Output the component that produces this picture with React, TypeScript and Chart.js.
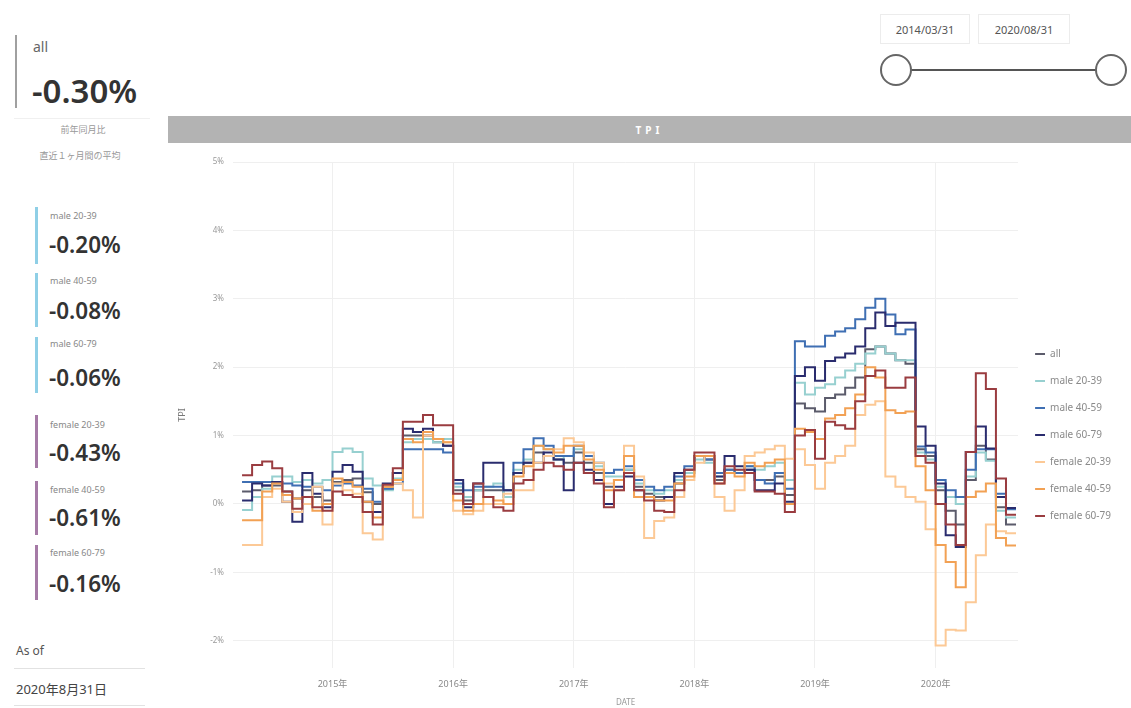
import React, { useEffect, useRef } from "react";
import { Chart, registerables } from "chart.js";

Chart.register(...registerables);

// ---- categories (month-end dates, 2014/03 .. 2020/08) ----
const months: string[] = [
  "2014/03", "2014/04", "2014/05", "2014/06", "2014/07", "2014/08", "2014/09", "2014/10", "2014/11", "2014/12",
  "2015/01", "2015/02", "2015/03", "2015/04", "2015/05", "2015/06", "2015/07", "2015/08", "2015/09", "2015/10", "2015/11", "2015/12",
  "2016/01", "2016/02", "2016/03", "2016/04", "2016/05", "2016/06", "2016/07", "2016/08", "2016/09", "2016/10", "2016/11", "2016/12",
  "2017/01", "2017/02", "2017/03", "2017/04", "2017/05", "2017/06", "2017/07", "2017/08", "2017/09", "2017/10", "2017/11", "2017/12",
  "2018/01", "2018/02", "2018/03", "2018/04", "2018/05", "2018/06", "2018/07", "2018/08", "2018/09", "2018/10", "2018/11", "2018/12",
  "2019/01", "2019/02", "2019/03", "2019/04", "2019/05", "2019/06", "2019/07", "2019/08", "2019/09", "2019/10", "2019/11", "2019/12",
  "2020/01", "2020/02", "2020/03", "2020/04", "2020/05", "2020/06", "2020/07", "2020/08",
];

// ---- series values (% YoY) ----
const allSeries: number[] = [
  0.18, 0.18, 0.2, 0.27, 0.27, 0.18, 0.08, 0.2, 0.1, 0.05,
  0.32, 0.35, 0.37, 0.17, 0.0, 0.22, 0.45, 1.0, 1.0, 1.0, 0.9, 0.85,
  0.2, 0.05, 0.2, 0.2, 0.2, 0.1, 0.45, 0.6, 0.75, 0.7, 0.65, 0.6,
  0.75, 0.6, 0.45, 0.25, 0.35, 0.5, 0.25, 0.15, 0.1, 0.1, 0.3, 0.45,
  0.7, 0.65, 0.35, 0.5, 0.45, 0.5, 0.35, 0.35, 0.4, 0.13, 1.47, 1.4,
  1.35, 1.55, 1.6, 1.7, 1.85, 2.26, 2.3, 2.2, 2.1, 2.05, 0.8, 0.7,
  0.2, -0.1, -0.3, 0.35, 0.85, 0.65, -0.05, -0.3,
];
const male2039: number[] = [
  -0.09, -0.09, 0.1, 0.22, 0.4, 0.4, 0.32, 0.35, 0.3, 0.35,
  0.76, 0.81, 0.76, 0.37, 0.27, 0.2, 0.37, 0.9, 0.95, 0.95, 0.9, 0.95,
  0.25, 0.1, 0.2, 0.25, 0.3, 0.1, 0.5, 0.65, 0.85, 0.8, 0.65, 0.7,
  0.8, 0.7, 0.55, 0.4, 0.4, 0.5, 0.3, 0.2, 0.15, 0.2, 0.35, 0.45,
  0.65, 0.6, 0.4, 0.45, 0.5, 0.55, 0.5, 0.55, 0.6, 0.35, 1.77, 1.6,
  1.7, 1.75, 1.85, 1.95, 2.05, 2.2, 2.3, 2.2, 2.1, 2.1, 0.75, 0.65,
  0.25, 0.1, 0.0, 0.4, 0.75, 0.63, -0.1, -0.2,
];
const male4059: number[] = [
  0.32, 0.32, 0.32, 0.32, 0.32, 0.3, 0.27, 0.25, 0.25, 0.2,
  0.27, 0.3, 0.27, 0.22, 0.03, 0.22, 0.3, 0.8, 0.8, 0.8, 0.8, 0.75,
  0.3, 0.2, 0.25, 0.25, 0.25, 0.2, 0.6, 0.8, 0.96, 0.85, 0.7, 0.7,
  0.85, 0.7, 0.6, 0.45, 0.5, 0.55, 0.35, 0.25, 0.2, 0.25, 0.4, 0.55,
  0.7, 0.65, 0.45, 0.5, 0.45, 0.55, 0.35, 0.3, 0.45, 0.22, 2.38, 2.3,
  2.3, 2.46, 2.52, 2.57, 2.7, 2.87, 3.0, 2.77, 2.48, 2.55, 0.84, 0.75,
  0.35, 0.2, 0.1, 0.5, 0.8, 0.8, 0.15, -0.08,
];
const male6079: number[] = [
  0.05, 0.05, 0.3, 0.27, 0.32, 0.03, -0.26, 0.45, 0.15, -0.05,
  0.47, 0.57, 0.47, 0.03, -0.12, 0.3, 0.45, 1.1, 1.05, 1.1, 0.95, 0.85,
  0.35, -0.05, 0.3, 0.6, 0.6, 0.2, 0.45, 0.6, 0.6, 0.75, 0.65, 0.2,
  0.6, 0.5, 0.35, 0.0, 0.25, 0.4, 0.2, 0.1, 0.05, 0.1, 0.45, 0.5,
  0.7, 0.7, 0.4, 0.7, 0.55, 0.5, 0.2, 0.2, 0.3, 0.03, 1.87, 2.0,
  1.8, 2.09, 2.14, 2.2, 2.3, 2.57, 2.8, 2.6, 2.65, 2.65, 1.13, 0.85,
  0.3, -0.46, -0.63, 0.76, 1.13, 0.81, 0.1, -0.06,
];
const female2039: number[] = [
  -0.6, -0.6, -0.6, 0.1, 0.22, 0.03, -0.12, 0.0, 0.25, -0.3,
  0.3, 0.2, 0.15, -0.43, -0.52, 0.25, 0.3, 0.2, -0.2, 1.0, 0.95, 0.9,
  -0.1, -0.15, -0.1, 0.0, 0.0, 0.15, 0.2, 0.2, 0.6, 0.7, 0.8, 0.96,
  0.9, 0.75, 0.6, 0.3, 0.2, 0.85, 0.4, -0.5, -0.25, -0.2, 0.1, 0.35,
  0.6, 0.7, 0.1, -0.1, 0.2, 0.7, 0.75, 0.8, 0.85, 0.66, 0.8, 0.57,
  0.22, 0.6, 0.7, 0.85, 1.3, 1.45, 1.5, 0.4, 0.25, 0.1, 0.03, -0.37,
  -2.07, -1.84, -1.85, -1.44, -0.75, -0.3, -0.4, -0.43,
];
const female4059: number[] = [
  -0.24, -0.24, -0.24, 0.18, 0.3, 0.13, 0.08, 0.1, -0.1, 0.0,
  0.37, 0.32, 0.25, 0.03, -0.2, 0.25, 0.35, 0.95, 0.9, 1.05, 0.95, 0.9,
  0.05, -0.1, 0.0, 0.1, 0.05, 0.0, 0.4, 0.55, 0.85, 0.8, 0.75, 0.85,
  0.85, 0.65, 0.5, 0.2, 0.35, 0.7, 0.1, 0.1, 0.05, 0.05, 0.3, 0.4,
  0.7, 0.7, 0.3, 0.45, 0.4, 0.6, 0.55, 0.6, 0.65, 0.0, 1.1, 1.05,
  0.95, 1.25, 1.3, 1.4, 1.6, 2.0, 1.85, 1.37, 1.33, 1.35, 0.55, 0.2,
  -0.6, -0.85, -1.22, 0.1, 0.18, 0.3, -0.5, -0.61,
];
const female6079: number[] = [
  0.42, 0.42, 0.57, 0.62, 0.52, 0.18, -0.07, 0.1, -0.05, -0.1,
  0.18, 0.13, 0.1, -0.12, -0.3, 0.28, 0.52, 1.2, 1.2, 1.3, 1.15, 1.15,
  0.15, 0.0, 0.3, 0.1, -0.05, -0.1, 0.3, 0.35, 0.5, 0.6, 0.55, 0.5,
  0.6, 0.45, 0.3, -0.05, 0.2, 0.45, 0.2, 0.05, -0.1, -0.12, 0.2, 0.5,
  0.75, 0.75, 0.3, 0.55, 0.5, 0.45, 0.18, 0.18, 0.15, -0.12, 1.0, 1.08,
  0.66, 1.2, 1.15, 1.1, 1.5, 1.87, 1.95, 1.7, 1.7, 1.85, 0.7, 0.6,
  0.0, -0.3, -0.6, 0.76, 1.91, 1.68, 0.37, -0.16,
];

const seriesNames = ["all", "male 20-39", "male 40-59", "male 60-79", "female 20-39", "female 40-59", "female 60-79"];
const seriesColors = ["#5b5b6b", "#97d0d0", "#3f6fb3", "#2a2c6e", "#fcc996", "#f2a154", "#9a3c40"];
const seriesValues = [allSeries, male2039, male4059, male6079, female2039, female4059, female6079];

// ---- tick labels ----
const yearTickLabels = ["2015年", "2016年", "2017年", "2018年", "2019年", "2020年"];
const yTickSuffix = "%";

// ---- KPI cards ----
const kpiAllName = "all";
const kpiAllValue = "-0.30%";
const kpiNames = ["male 20-39", "male 40-59", "male 60-79", "female 20-39", "female 40-59", "female 60-79"];
const kpiValues = ["-0.20%", "-0.08%", "-0.06%", "-0.43%", "-0.61%", "-0.16%"];
const sliderDates = ["2014/03/31", "2020/08/31"];
const asOfDate = "2020年8月31日";

const FONT = "'Noto Sans', 'Noto Sans CJK JP', sans-serif";

function monthPos(m: string): number {
  const [y, mo] = m.split("/").map(Number);
  return (y - 2014) * 12 + mo;
}

function TPIChart() {
  const ref = useRef<HTMLCanvasElement | null>(null);
  useEffect(() => {
    if (!ref.current) return;
    const datasets = seriesNames.map((name, si) => ({
      label: name,
      data: months.map((m, i) => ({ x: monthPos(m), y: seriesValues[si][i] })),
      borderColor: seriesColors[si],
      backgroundColor: seriesColors[si],
      borderWidth: 2,
      pointRadius: 0,
      stepped: "after" as const,
      fill: false,
    }));
    const chart = new Chart(ref.current, {
      type: "line",
      data: { datasets: datasets.slice().reverse() as any },
      options: {
        animation: false,
        responsive: false,
        layout: { padding: { top: 19, right: 10, left: 0, bottom: 0 } },
        plugins: {
          legend: {
            position: "right",
            reverse: true,
            labels: {
              usePointStyle: true,
              pointStyle: "line",
              boxWidth: 10,
              boxHeight: 7,
              padding: 17,
              color: "#8a8a8a",
              font: { size: 10, family: FONT },
            },
          },
          tooltip: { enabled: false },
        },
        scales: {
          x: {
            type: "linear",
            min: 2.1,
            max: 80.2,
            afterFit: (s: any) => { s.height = 40; },
            grid: { color: "#efefef", drawTicks: false },
            border: { display: false },
            ticks: {
              stepSize: 12,
              includeBounds: false,
              padding: 11,
              color: "#888",
              font: { size: 9, family: FONT },
              maxRotation: 0,
              callback: (v: any) => {
                const idx = Math.round(Number(v) / 12) - 1;
                return Number(v) % 12 === 0 && yearTickLabels[idx] ? yearTickLabels[idx] : null;
              },
            },
            title: { display: true, text: "DATE", color: "#999", font: { size: 8, family: FONT }, padding: { top: 0, bottom: 0 } },
          },
          y: {
            min: -2.4,
            max: 5,
            afterFit: (s: any) => { s.width = 65; },
            grid: { color: "#efefef", drawTicks: false },
            border: { display: false },
            ticks: {
              stepSize: 1,
              includeBounds: false,
              padding: 9,
              color: "#999",
              font: { size: 8, family: FONT },
              callback: (v: any) => `${v}${yTickSuffix}`,
            },
            title: { display: true, text: "TPI", color: "#777", font: { size: 9, family: FONT }, padding: { top: 9, bottom: 0 } },
          },
        },
      } as any,
    });
    return () => chart.destroy();
  }, []);
  return <canvas ref={ref} width={963} height={565} style={{ width: 963, height: 565, display: "block" }} />;
}

const abs = (s: React.CSSProperties): React.CSSProperties => ({ position: "absolute", lineHeight: 1, whiteSpace: "nowrap", ...s });

const cardTops = [
  { bar: [207, 264], label: 216, value: 246, color: "#8fcfe6" },
  { bar: [273, 327], label: 281, value: 312, color: "#8fcfe6" },
  { bar: [337, 393], label: 344, value: 379, color: "#8fcfe6" },
  { bar: [415, 468], label: 425, value: 454, color: "#a57aa6" },
  { bar: [481, 535], label: 490, value: 519, color: "#a57aa6" },
  { bar: [545, 600], label: 553, value: 585, color: "#a57aa6" },
];

export default function App() {
  return (
    <div style={{ position: "fixed", left: 0, top: 0, width: 1131, height: 708, overflow: "hidden", background: "#fff", fontFamily: FONT }}>
      {/* all card */}
      <div style={abs({ left: 15, top: 35, width: 2, height: 73, background: "#a0a0a0" })} />
      <div style={abs({ left: 33, top: 40, fontSize: 14, color: "#666" })}>{kpiAllName}</div>
      <div style={abs({ left: 32, top: 74, fontSize: 33, fontWeight: 600, color: "#333" })}>{kpiAllValue}</div>
      <div style={abs({ left: 14, top: 118, width: 136, height: 1, background: "#f0f0f0" })} />
      <div style={abs({ left: 0, width: 166, top: 125, fontSize: 9, color: "#999", textAlign: "center" })}>前年同月比</div>
      <div style={abs({ left: 0, width: 160, top: 151, fontSize: 9, color: "#999", textAlign: "center" })}>直近１ヶ月間の平均</div>

      {cardTops.map((c, i) => (
        <React.Fragment key={i}>
          <div style={abs({ left: 35, top: c.bar[0], width: 3, height: c.bar[1] - c.bar[0], background: c.color })} />
          <div style={abs({ left: 50, top: c.label - 5, fontSize: 9, color: "#888" })}>{kpiNames[i]}</div>
          <div style={abs({ left: 49, top: c.value - 12, fontSize: 22.5, fontWeight: 600, color: "#333" })}>{kpiValues[i]}</div>
        </React.Fragment>
      ))}

      <div style={abs({ left: 16, top: 645, fontSize: 12, color: "#555" })}>As of</div>
      <div style={abs({ left: 14, top: 668, width: 131, height: 1, background: "#e2e2e2" })} />
      <div style={abs({ left: 16, top: 683, fontSize: 13, color: "#444" })}>{asOfDate}</div>
      <div style={abs({ left: 14, top: 705, width: 131, height: 1, background: "#e2e2e2" })} />

      {/* date slider */}
      <div style={abs({ left: 880, top: 14, width: 90, height: 30, border: "1px solid #ececec", boxSizing: "border-box", fontSize: 11, color: "#555", display: "flex", alignItems: "center", justifyContent: "center" })}>{sliderDates[0]}</div>
      <div style={abs({ left: 978, top: 14, width: 92, height: 30, border: "1px solid #ececec", boxSizing: "border-box", fontSize: 11, color: "#555", display: "flex", alignItems: "center", justifyContent: "center" })}>{sliderDates[1]}</div>
      <div style={abs({ left: 910, top: 69, width: 188, height: 2, background: "#555" })} />
      <div style={abs({ left: 880, top: 54, width: 32, height: 32, borderRadius: "50%", border: "2px solid #666", background: "#fff", boxSizing: "border-box" })} />
      <div style={abs({ left: 1095, top: 54, width: 32, height: 32, borderRadius: "50%", border: "2px solid #666", background: "#fff", boxSizing: "border-box" })} />

      {/* title bar */}
      <div style={abs({ left: 168, top: 116, width: 963, height: 27, background: "#b3b3b3", color: "#fff", fontSize: 10, fontWeight: 700, letterSpacing: 4, display: "flex", alignItems: "center", justifyContent: "center" })}>TPI</div>

      <div style={{ position: "absolute", left: 168, top: 143, width: 963, height: 565 }}>
        <TPIChart />
      </div>
    </div>
  );
}
